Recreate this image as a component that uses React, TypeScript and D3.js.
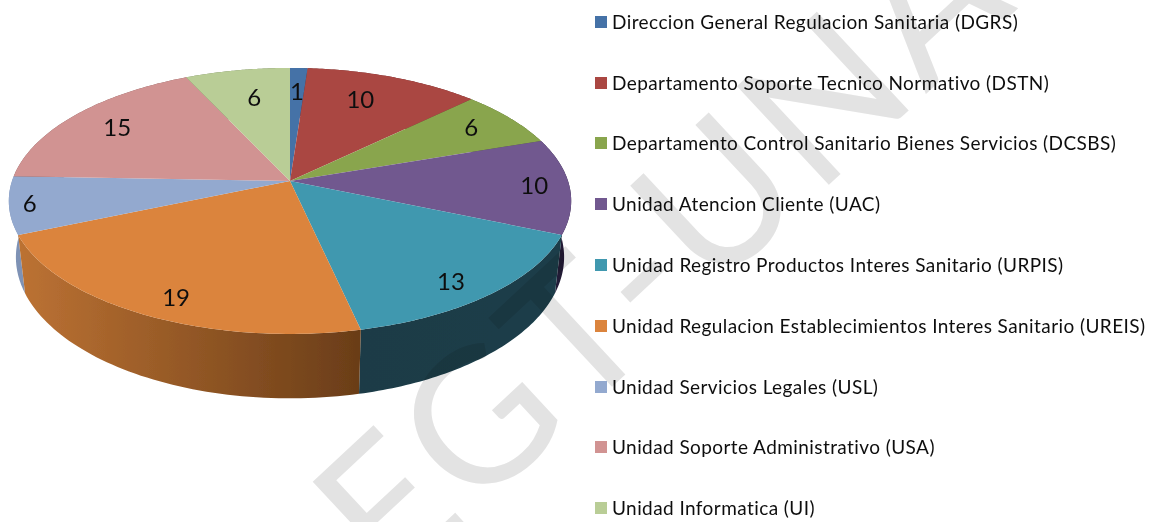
import React from "react";
import * as d3 from "d3";

const categories = [
  "Direccion General Regulacion Sanitaria (DGRS)",
  "Departamento Soporte Tecnico Normativo (DSTN)",
  "Departamento Control Sanitario Bienes Servicios (DCSBS)",
  "Unidad Atencion Cliente (UAC)",
  "Unidad Registro Productos Interes Sanitario (URPIS)",
  "Unidad Regulacion Establecimientos Interes Sanitario (UREIS)",
  "Unidad Servicios Legales (USL)",
  "Unidad Soporte Administrativo (USA)",
  "Unidad Informatica (UI)",
];
const values = [1, 10, 6, 10, 13, 19, 6, 15, 6];
const topColors = ["#4572a7", "#aa4643", "#89a54e", "#71588f", "#4198af", "#db843d", "#93a9cf", "#d19392", "#b9cd96"];
const sideStart = ["#2a4566", "#682a28", "#53642f", "#2a2040", "#1a3d49", "#bc7233", "#7e92b5", "#7f5958", "#70805a"];
const sideEnd = ["#2a4566", "#682a28", "#53642f", "#1f1730", "#1a3b46", "#6a3d18", "#7e92b5", "#7f5958", "#70805a"];
const labelNudges = [[0, -2], [-10, -1], [13, -5], [35, 1], [15, 19], [-8, 20], [-51, 5], [-9, -3], [5, 2]];
const legendRows = [22, 83, 143, 204, 265, 326, 387, 447, 508];

const P = -0.15;
const project = (a: number, r: number, cy: number, A: number, B: number): [number, number] => {
  const u = r * Math.sin(a), v = -r * Math.cos(a), d = 1 + P * v;
  return [290 + (A * u) / d, cy + (B * v) / d];
};
const topPt = (a: number, r = 1) => project(a, r, 181, 278, 130);
const botPt = (a: number) => project(a, 1, 236, 271, 138);

const arcs = d3.pie<number>().sort(null)(values);
const line = d3.line();
const steps = (a0: number, a1: number) => d3.range(0, 61).map((i) => a0 + ((a1 - a0) * i) / 60);

const topPath = (a0: number, a1: number) =>
  line([[290, 181], ...steps(a0, a1).map((a) => topPt(a))])! + "Z";
const sidePath = (a0: number, a1: number) =>
  line([...steps(a0, a1).map((a) => topPt(a)), ...steps(a1, a0).map((a) => botPt(a))])! + "Z";

const sideOrder = [1, 2, 0, 8, 7, 3, 6, 4, 5];

export default function App() {
  return (
    <svg width={1158} height={522} style={{ position: "absolute", left: 0, top: 0 }}>
      <defs>
        <filter id="soft" x="-5%" y="-5%" width="110%" height="110%">
          <feGaussianBlur stdDeviation="0.45" />
        </filter>
        {arcs.map((s, i) => {
          const xs = steps(s.startAngle, s.endAngle).map((a) => topPt(a)[0]);
          return (
            <linearGradient key={i} id={`side${i}`} gradientUnits="userSpaceOnUse" x1={d3.min(xs)} x2={d3.max(xs)} y1={0} y2={0}>
              <stop offset="0" stopColor={i === 4 ? sideEnd[i] : sideStart[i]} />
              <stop offset="1" stopColor={i === 4 ? sideStart[i] : sideEnd[i]} />
            </linearGradient>
          );
        })}
      </defs>
      <rect width={1158} height={522} fill="#fff" />
      <g filter="url(#soft)">
        {sideOrder.map((i) => (
          <path key={i} d={sidePath(arcs[i].startAngle, arcs[i].endAngle)} fill={`url(#side${i})`} />
        ))}
        {arcs.map((s, i) => (
          <path key={i} d={topPath(s.startAngle, s.endAngle)} fill={topColors[i]} />
        ))}
        {arcs.map((s, i) => {
          const [x, y] = topPt((s.startAngle + s.endAngle) / 2, 0.75);
          return (
            <text key={i} x={x + labelNudges[i][0]} y={y + labelNudges[i][1]} dy="0.35em" textAnchor="middle" fontFamily="Lato" fontSize={24} fill="#111">
              {values[i]}
            </text>
          );
        })}
        {categories.map((c, i) => (
          <g key={c}>
            <rect x={595} y={legendRows[i] - 6} width={12} height={12} fill={topColors[i]} />
            <text x={612} y={legendRows[i]} dy="0.35em" fontFamily="Lato" fontSize={19} letterSpacing={0.42} fill="#111">
              {c}
            </text>
          </g>
        ))}
      </g>
      <text
        transform="translate(392,592) rotate(-43)"
        fontFamily="Lato"
        fontWeight={400}
        fontSize={188}
        letterSpacing={6}
        fill="#e3e3e3"
        style={{ mixBlendMode: "multiply" }}
      >
        EGT-UNA
      </text>
    </svg>
  );
}
